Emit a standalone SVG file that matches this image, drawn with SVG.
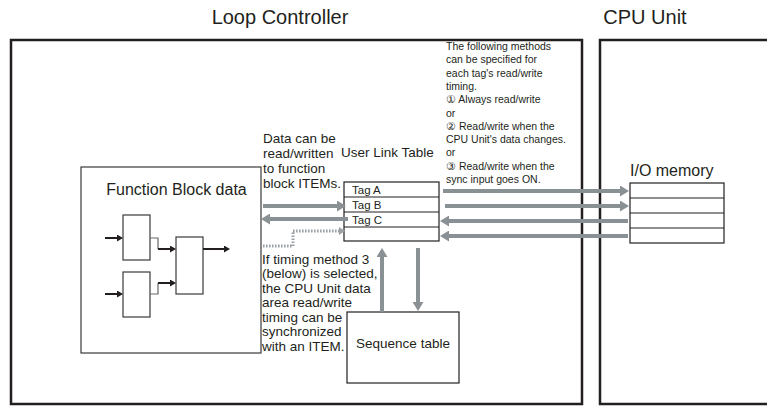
<svg xmlns="http://www.w3.org/2000/svg" width="767" height="407" viewBox="0 0 767 407">
<style>
text{font-family:"Liberation Sans",Arial,Helvetica,sans-serif;fill:#231f20}
.title{font-size:20px}
.lbl{font-size:16px}
.mid{font-size:13.5px}
.note{font-size:10.5px}
.tag{font-size:11.5px}
.frame{fill:none;stroke:#231f20;stroke-width:2.5}
.box{fill:#fff;stroke:#3a3a3a;stroke-width:1.2}
.tbl{fill:#fff;stroke:#231f20;stroke-width:1.2}
.garrow{fill:none;stroke:#8a9195;stroke-width:4;marker-end:url(#ga)}
.barrow{fill:none;stroke:#231f20;stroke-width:2;marker-end:url(#ba)}
.thin{fill:none;stroke:#666;stroke-width:1.2}
.dot{fill:none;stroke:#9ba1a5;stroke-width:3;stroke-dasharray:1.6 1.4}
</style>
<defs>
<marker id="ga" markerUnits="userSpaceOnUse" markerWidth="10" markerHeight="11" refX="1" refY="5.5" orient="auto"><path d="M0,0 L9,5.5 L0,11 z" fill="#8a9195"/></marker>
<marker id="ba" markerUnits="userSpaceOnUse" markerWidth="7" markerHeight="7" refX="1" refY="3.5" orient="auto"><path d="M0,0 L6,3.5 L0,7 z" fill="#231f20"/></marker>
<marker id="da" markerUnits="userSpaceOnUse" markerWidth="7" markerHeight="8" refX="1" refY="4" orient="auto"><path d="M0,0 L6,4 L0,8 z" fill="#9ba1a5"/></marker>
</defs>

<g id="loop-controller">
<text class="title" x="280" y="24" text-anchor="middle">Loop Controller</text>
<rect class="frame" x="11" y="40" width="571" height="364"/>
</g>
<g id="cpu-unit">
<text class="title" x="645" y="24" text-anchor="middle">CPU Unit</text>
<rect class="frame" x="600" y="40" width="200" height="364"/>
</g>

<g id="function-block">
<rect class="box" x="81" y="167" width="180" height="186"/>
<text class="lbl" x="176.5" y="195" text-anchor="middle">Function Block data</text>
<rect class="box" x="123" y="215" width="27" height="45"/>
<rect class="box" x="123" y="272" width="27" height="45"/>
<rect class="box" x="176" y="237" width="27" height="57"/>
<path class="barrow" d="M105 238 H118"/>
<path class="barrow" d="M105 294 H118"/>
<path class="thin" d="M150 238 H158 V249"/>
<path class="thin" d="M150 294 H158 V283"/>
<path class="barrow" d="M158 249 H171"/>
<path class="barrow" d="M158 283 H171"/>
<path class="barrow" d="M203 249 H225"/>
</g>

<g id="user-link-table">
<text class="mid" x="341" y="157">User Link Table</text>
<rect class="tbl" x="344" y="182" width="95" height="59"/>
<path class="tbl" d="M344 197 H439 M344 212 H439 M344 227 H439"/>
<text class="tag" x="352" y="194">Tag A</text>
<text class="tag" x="352" y="209">Tag B</text>
<text class="tag" x="352" y="224">Tag C</text>
</g>

<g id="io-memory">
<text class="lbl" x="630" y="176">I/O memory</text>
<rect class="tbl" x="630" y="183" width="94" height="60"/>
<path class="tbl" d="M630 198 H724 M630 213 H724 M630 228 H724"/>
</g>

<g id="sequence-table">
<rect class="tbl" x="347" y="312" width="112" height="71"/>
<text class="mid" x="403" y="348" text-anchor="middle">Sequence table</text>
</g>

<g id="notes">
<text class="mid" font-size="13"><tspan x="263" y="143">Data can be</tspan><tspan x="263" y="158">read/written</tspan><tspan x="263" y="173">to function</tspan><tspan x="263" y="188">block ITEMs.</tspan></text>
<text class="mid" font-size="12.8"><tspan x="262" y="263.5">If timing method 3</tspan><tspan x="262" y="278">(below) is selected,</tspan><tspan x="262" y="292.5">the CPU Unit data</tspan><tspan x="262" y="307">area read/write</tspan><tspan x="262" y="321.5">timing can be</tspan><tspan x="262" y="336">synchronized</tspan><tspan x="262" y="350.5">with an ITEM.</tspan></text>
<text class="note"><tspan x="446" y="50">The following methods</tspan><tspan x="446" y="63.3">can be specified for</tspan><tspan x="446" y="76.6">each tag's read/write</tspan><tspan x="446" y="89.9">timing.</tspan><tspan x="446" y="103.2">① Always read/write</tspan><tspan x="446" y="116.5">or</tspan><tspan x="446" y="129.8">② Read/write when the</tspan><tspan x="446" y="143.1">CPU Unit's data changes.</tspan><tspan x="446" y="156.4">or</tspan><tspan x="446" y="169.7">③ Read/write when the</tspan><tspan x="446" y="183">sync input goes ON.</tspan></text>
</g>

<g id="connectors">
<path class="garrow" d="M443 191 H621"/>
<path class="garrow" d="M445 206 H621"/>
<path class="garrow" d="M628 221 H448"/>
<path class="garrow" d="M628 236 H448"/>
<path class="garrow" d="M263 206 H338"/>
<path class="garrow" d="M348 219 H269"/>
<path class="garrow" d="M382 312 V256"/>
<path class="garrow" d="M418 248 V303"/>
<path class="dot" d="M263 246 H293 V231 H340" marker-end="url(#da)"/>
</g>
</svg>
